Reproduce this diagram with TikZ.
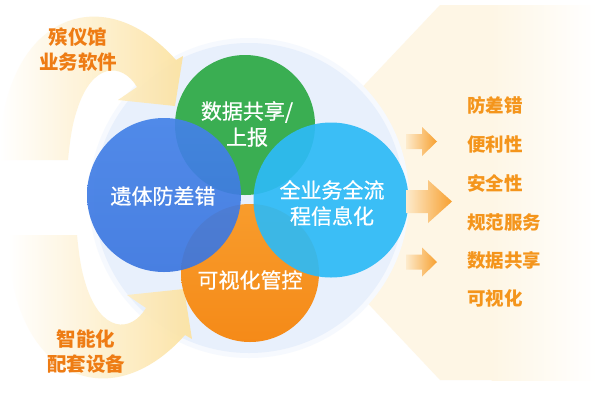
\documentclass[tikz,border=0pt]{standalone}
\usepackage{fontspec}
\setmainfont{Noto Sans CJK SC}
\newfontfamily\cjkmed[FakeBold=0.6]{Noto Sans CJK SC}
\begin{document}
\begin{tikzpicture}[x=1pt,y=-1pt]
\definecolor{yb}{HTML}{FEF6E5}
\definecolor{ringc}{HTML}{E8F0FC}
\definecolor{ringglow}{HTML}{F6F9FE}
\definecolor{bandc}{HTML}{FCE2A0}
\definecolor{cgreen}{HTML}{3AAE52}
\definecolor{cblue}{HTML}{4482E8}
\definecolor{cblueb}{HTML}{3B76DF}
\definecolor{ccyan}{HTML}{2DBAF6}
\definecolor{corange}{HTML}{F89C2C}
\definecolor{coranged}{HTML}{F58A18}
\definecolor{ltxt}{HTML}{EE7C14}
\definecolor{rtxt}{HTML}{F4951C}
\definecolor{arrl}{HTML}{FDEBCC}
\definecolor{arrr}{HTML}{F7A030}
\tikzset{
  ctext/.style={text=white, font=\cjkmed\fontsize{21}{26}\selectfont, align=center, inner sep=0pt},
  ltext/.style={text=ltxt, font=\bfseries\fontsize{19.5}{25}\selectfont, align=center, inner sep=0pt},
  rtext/.style={text=rtxt, font=\bfseries\fontsize{18.5}{22}\selectfont, anchor=west, inner sep=0pt},
  smallarrow/.style={left color=arrl, right color=arrr},
  band/.style={left color=white, middle color=bandc!75!white, right color=bandc, fill opacity=0.92}
}
\useasboundingbox (0,0) rectangle (596,408);
\fill[white] (0,0) rectangle (596,408);
% right backdrop
\fill[yb] (263,192) -- (440,5) -- (492,5) -- (492,380) -- (440,380) -- cycle;
\shade[left color=yb, right color=white] (491.5,5) rectangle (596,380);
% ring
\fill[ringglow] (249,198) circle (160);
\fill[ringc] (249,198) circle (155);
% left top band
\shade[band] (0,150) .. controls (3,20) and (100,-25) .. (176,60)
  -- (183,56) -- (175,106) -- (118,100) -- (137,87)
  .. controls (122,62) and (92,62) .. (77,110)
  .. controls (72,125) and (70,140) .. (68,160) -- (0,160) -- cycle;
% left bottom band (mirror)
\begin{scope}[shift={(9,395)}, yscale=-1]
\shade[band] (0,150) .. controls (3,20) and (100,-25) .. (176,60)
  -- (183,56) -- (175,106) -- (118,100) -- (137,87)
  .. controls (122,62) and (92,62) .. (77,110)
  .. controls (72,125) and (70,140) .. (68,160) -- (0,160) -- cycle;
\end{scope}
% circles
\fill[cgreen] (245,125) circle (70);
\shade[top color=corange, bottom color=coranged] (250,273) circle (69);
\shade[top color=cblue, bottom color=cblueb, opacity=0.92] (164,195) circle (77);
\fill[ccyan, fill opacity=0.92] (331,200) circle (77.5);
% circle texts
\node[ctext] (n1) at (247,124) {数据共享/\\上报};
\node[ctext] (n2) at (163,196) {遗体防差错};
\node[ctext] (n3) at (332,203) {全业务全流\\程信息化};
\node[ctext] (n4) at (250,280) {可视化管控};
% left texts
\node[ltext] (l1) at (78,50) {殡仪馆\\业务软件};
\node[ltext] (l2) at (86,352) {智能化\\配套设备};
% right arrows
\shade[smallarrow] (406,134) -- (422,134) -- (422,127) -- (437,141.5) -- (422,156) -- (422,149) -- (406,149) -- cycle;
\shade[smallarrow] (406,190) -- (428,190) -- (428,180) -- (452,201.5) -- (428,223) -- (428,213) -- (406,213) -- cycle;
\shade[smallarrow] (406,254.5) -- (422,254.5) -- (422,247.5) -- (437,262) -- (422,276.5) -- (422,269.5) -- (406,269.5) -- cycle;
% right texts
\node[rtext] (r1) at (467,105) {防差错};
\node[rtext] (r2) at (467,144) {便利性};
\node[rtext] (r3) at (467,183) {安全性};
\node[rtext] (r4) at (467,222) {规范服务};
\node[rtext] (r5) at (467,260) {数据共享};
\node[rtext] (r6) at (467,298) {可视化};
\end{tikzpicture}
\end{document}
